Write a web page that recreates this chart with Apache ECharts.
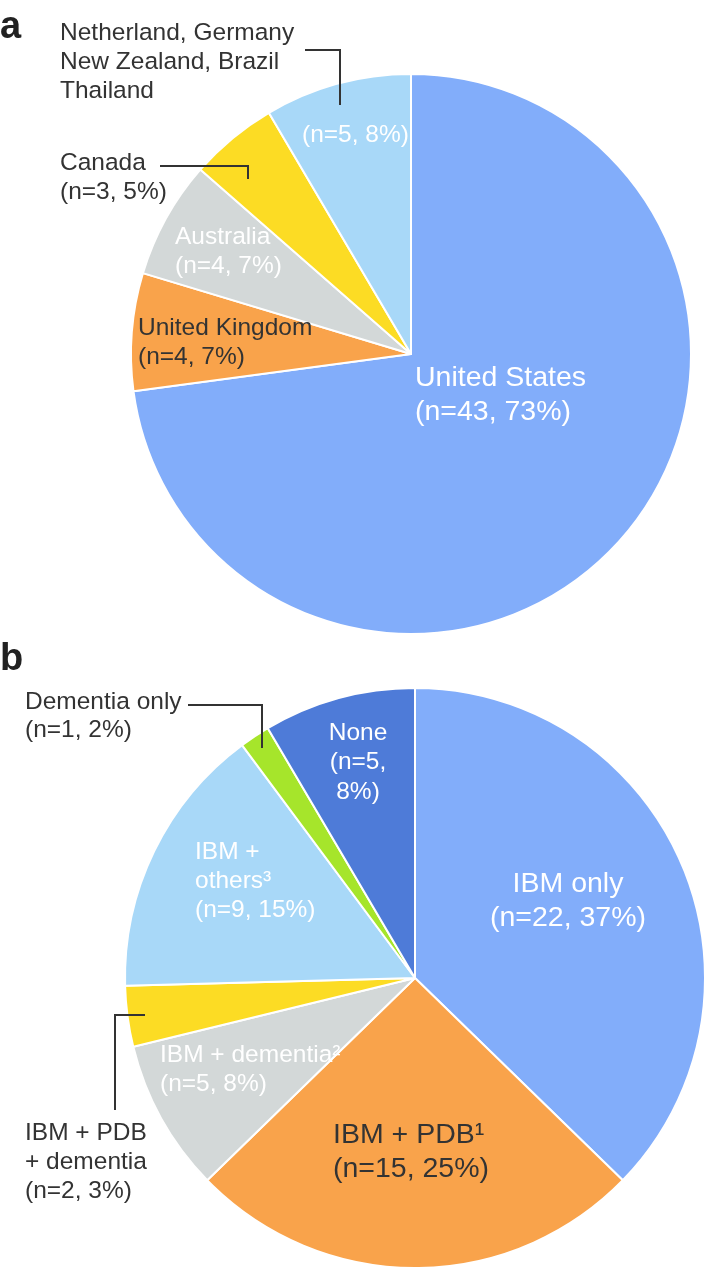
<!DOCTYPE html>
<html>
<head>
<meta charset="utf-8">
<script src="https://cdn.jsdelivr.net/npm/echarts@6/dist/echarts.min.js"></script>
<style>
  html, body { margin: 0; padding: 0; background: #ffffff; }
  #chart { width: 710px; height: 1270px; }
</style>
</head>
<body>
<div id="chart"></div>
<script>
// ---- Data ----
const countryNames = ['United States', 'United Kingdom', 'Australia', 'Canada', 'Netherland, Germany\nNew Zealand, Brazil\nThailand'];
const countryCounts = [43, 4, 4, 3, 5];

const comorbidityNames = ['IBM only', 'IBM + PDB\u00B9', 'IBM + dementia\u00B2', 'IBM + PDB\n+ dementia', 'IBM +\nothers\u00B3', 'Dementia only', 'None'];
const comorbidityCounts = [22, 15, 5, 2, 9, 1, 5];

const panelLetters = ['a', 'b'];

// ---- Styles ----
const colorsA = ['#82adfa', '#f9a34b', '#d3d8d8', '#fcdc24', '#a8d8f8'];
const colorsB = ['#82adfa', '#f9a34b', '#d3d8d8', '#fcdc24', '#a8d8f8', '#a6e52b', '#4e7bd8'];
const DARK = '#333333';
const WHITE = '#ffffff';
const FONT = '"Liberation Sans", Arial, Helvetica, sans-serif';
const SMALL = 24.5;
const BIG = 28.5;

function total(arr) { return arr.reduce((s, v) => s + v, 0); }
function valText(v, arr, sep) {
  return '(n=' + v + ',' + (sep || ' ') + Math.round(v / total(arr) * 100) + '%)';
}

const chart = echarts.init(document.getElementById('chart'), null, { renderer: 'canvas' });

function pieData(names, counts, colors) {
  return counts.map((v, i) => ({ name: names[i], value: v, itemStyle: { color: colors[i] } }));
}

function txt(text, x, y, opts) {
  return {
    type: 'text', x: x, y: y, silent: true, z: 10,
    style: {
      text: text,
      font: (opts.bold ? 'bold ' : '') + (opts.size || SMALL) + 'px ' + FONT,
      fill: opts.fill || DARK,
      lineHeight: opts.lh || 29,
      align: opts.align || 'left',
      verticalAlign: opts.va || 'top'
    }
  };
}
function leader(points) {
  return {
    type: 'polyline', silent: true, z: 10,
    shape: { points: points },
    style: { stroke: DARK, lineWidth: 2, fill: null }
  };
}

const graphics = [
  txt(panelLetters[0], 0, 28, { size: 38, bold: true, va: 'middle', fill: '#222', lh: 38 }),
  txt(panelLetters[1], 0, 660, { size: 38, bold: true, va: 'middle', fill: '#222', lh: 38 }),

  // Panel a labels
  txt(countryNames[0] + '\n' + valText(countryCounts[0], countryCounts), 415, 361, { size: BIG, lh: 34, fill: WHITE }),
  txt(countryNames[1] + '\n' + valText(countryCounts[1], countryCounts), 138, 313.5, { fill: DARK }),
  txt(countryNames[2] + '\n' + valText(countryCounts[2], countryCounts), 175, 222.5, { fill: WHITE }),
  txt(countryNames[3] + '\n' + valText(countryCounts[3], countryCounts), 60, 148.5, { fill: DARK }),
  txt(countryNames[4], 60, 18.5, { fill: DARK }),
  txt(valText(countryCounts[4], countryCounts), 302, 120.5, { fill: WHITE }),
  leader([[305, 50], [340, 50], [340, 105]]),
  leader([[160, 166], [248, 166], [248, 179]]),

  // Panel b labels
  txt(comorbidityNames[0] + '\n' + valText(comorbidityCounts[0], comorbidityCounts), 568, 867.5, { size: BIG, lh: 34, fill: WHITE, align: 'center' }),
  txt(comorbidityNames[1] + '\n' + valText(comorbidityCounts[1], comorbidityCounts), 333, 1118, { size: BIG, lh: 34, fill: DARK }),
  txt(comorbidityNames[2] + '\n' + valText(comorbidityCounts[2], comorbidityCounts), 160, 1041, { fill: WHITE }),
  txt(comorbidityNames[3] + '\n' + valText(comorbidityCounts[3], comorbidityCounts), 25, 1118.5, { fill: DARK }),
  txt(comorbidityNames[4] + '\n' + valText(comorbidityCounts[4], comorbidityCounts), 195, 837.5, { fill: WHITE }),
  txt(comorbidityNames[5] + '\n' + valText(comorbidityCounts[5], comorbidityCounts), 25, 688, { fill: DARK, lh: 28 }),
  txt(comorbidityNames[6] + '\n' + valText(comorbidityCounts[6], comorbidityCounts, '\n'), 358, 718, { fill: WHITE, align: 'center', lh: 29.5 }),
  leader([[188, 705], [262, 705], [262, 748]]),
  leader([[145, 1015], [115, 1015], [115, 1110]])
];

chart.setOption({
  animation: false,
  backgroundColor: '#ffffff',
  series: [
    {
      type: 'pie',
      center: [411, 354],
      radius: 280,
      startAngle: 90,
      clockwise: true,
      avoidLabelOverlap: false,
      label: { show: false },
      labelLine: { show: false },
      emphasis: { disabled: true },
      itemStyle: { borderColor: '#ffffff', borderWidth: 2 },
      data: pieData(countryNames, countryCounts, colorsA)
    },
    {
      type: 'pie',
      center: [415, 978],
      radius: 290,
      startAngle: 90,
      clockwise: true,
      avoidLabelOverlap: false,
      label: { show: false },
      labelLine: { show: false },
      emphasis: { disabled: true },
      itemStyle: { borderColor: '#ffffff', borderWidth: 2 },
      data: pieData(comorbidityNames, comorbidityCounts, colorsB)
    }
  ],
  graphic: graphics
});
</script>
</body>
</html>
